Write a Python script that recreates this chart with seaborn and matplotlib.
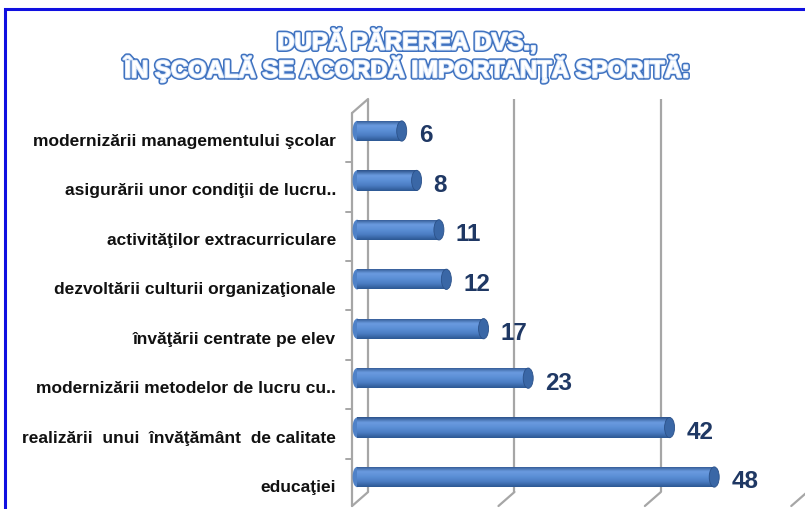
"""
Survey chart: Dupa parerea dvs., in scoala se acorda importanta sporita
Horizontal cylinder-style bars, recreated with seaborn + matplotlib
"""

import numpy as np
import pandas as pd
import matplotlib
matplotlib.use('Agg')
import matplotlib.pyplot as plt
import matplotlib.patheffects as pe
from matplotlib.patches import Ellipse, Rectangle
from matplotlib.transforms import ScaledTranslation
import seaborn as sns

# --- data ---
categories = [
    'modernizării managementului şcolar',
    'asigurării unor condiţii de lucru..',
    'activităţilor extracurriculare',
    'dezvoltării culturii organizaţionale',
    'învăţării centrate pe elev',
    'modernizării metodelor de lucru cu..',
    'realizării  unui  învăţământ  de calitate',
    'educaţiei',
]
values = [6, 8, 11, 12, 17, 23, 42, 48]
grid_ticks = [0, 20, 40, 60]

title_lines = ['DUPĂ PĂREREA DVS.,',
               'ÎN ŞCOALĂ SE ACORDĂ IMPORTANŢĂ SPORITĂ:']

df = pd.DataFrame({'category': categories, 'value': values})

sns.set_theme(style='white')
plt.rcParams['font.family'] = ['Liberation Sans', 'DejaVu Sans']

W, H = 805, 510
fig = plt.figure(figsize=(W / 100, H / 100), dpi=100)

# axes spans pixel x 350..805, y 100..507
ax = fig.add_axes([350 / W, 3 / H, 455 / W, 407 / H])
xmin, xmax = -0.95, 60.2
ax.set_xlim(xmin, xmax)
ppx = 455 / (xmax - xmin)          # pixels per x unit
ppy = 49.43                        # pixels per category
y_top = -(132 - 100) / ppy
y_bot = y_top + 407 / ppy
ax.set_ylim(y_bot, y_top)

bar_h = 0.41
sns.barplot(data=df, x='value', y='category', orient='h', width=bar_h,
            color='#4f82c8', edgecolor='none', ax=ax, zorder=3)

# --- fake 3D frame: back wall + floor slants ---
grid_col = '#a6a6a6'
dx_floor = 16 / ppx
dy_floor = 14 / ppy
back_bot = y_bot - dy_floor
for g in grid_ticks:
    bx = (11 + g * 7.32) / ppx
    ax.plot([bx, bx], [y_top, back_bot], color=grid_col, lw=1.6, zorder=1,
            solid_capstyle='butt', clip_on=False)
    ax.plot([bx, bx - dx_floor], [back_bot, y_bot], color=grid_col, lw=1.6,
            zorder=1, clip_on=False)

# left side wall (front edge + tick marks)
fx = (352 - 357) / ppx
bx0 = 11 / ppx
ax.plot([fx, fx], [y_top + dy_floor, y_bot], color=grid_col, lw=1.6, zorder=1, clip_on=False)
ax.plot([fx, bx0], [y_top + dy_floor, y_top], color=grid_col, lw=1.6, zorder=1, clip_on=False)
for k in range(len(categories) - 1):
    ax.plot([fx - 6 / ppx, fx], [k + 0.63, k + 0.63], color=grid_col, lw=1.4,
            zorder=1, clip_on=False)

# --- cylinder shading on every bar ---
grad = np.linspace(0, 1, 64).reshape(-1, 1)
cyl = matplotlib.colors.LinearSegmentedColormap.from_list(
    'cyl', ['#2b5189', '#6b9be0', '#5b8fd6', '#4a7cc2', '#2c5792'])
for i, patch in enumerate(ax.patches[:len(values)]):
    y0 = patch.get_y()
    h = patch.get_height()
    v = values[i]
    # rounded left end
    ax.add_patch(Ellipse((0, y0 + h / 2), 9 / ppx, h, facecolor='#4f82c8',
                         edgecolor='none', zorder=3))
    im = ax.imshow(grad, extent=[0, v, y0 + h, y0], aspect='auto', cmap=cyl,
                   zorder=4, interpolation='bicubic')
    im.set_clip_path(patch)
    # end cap
    ax.add_patch(Ellipse((v, y0 + h / 2), 10 / ppx, h, facecolor='#3a67a6',
                         edgecolor='#2b5189', lw=0.6, zorder=5))
    ax.text(v + 17 / ppx, i + 0.08, str(v), ha='left', va='center',
            fontsize=17.5, fontweight='bold', color='#1f3864', zorder=6)

ax.set_xlim(xmin, xmax)
ax.set_ylim(y_bot, y_top)
ax.set_xticks([])
ax.set_xlabel('')
ax.set_ylabel('')
ax.tick_params(axis='y', length=0, pad=10)
for lbl in ax.get_yticklabels():
    lbl.set_fontsize(12.5)
    lbl.set_fontweight('bold')
    lbl.set_color('#111111')
    lbl.set_transform(lbl.get_transform() + ScaledTranslation(0, -8 / 100, fig.dpi_scale_trans))
for s in ax.spines.values():
    s.set_visible(False)
ax.patch.set_alpha(0)

# --- outer border (blue, open on right/bottom) ---
fig.add_artist(Rectangle((5 / W, -0.05), 1.2, (500 / H) + 0.05, transform=fig.transFigure,
                         fill=False, edgecolor='#1010e0', lw=2.2, zorder=10))

# --- outlined title ---
for txt, yp in zip(title_lines, [43, 70]):
    fig.text(407 / W, 1 - yp / H, txt, ha='center', va='center',
             fontsize=17.2, fontweight='bold', color='#ffffff',
             path_effects=[pe.Stroke(linewidth=3.6, foreground='#3f72c0'),
                           pe.Stroke(linewidth=1.4, foreground='#d9e6f8'),
                           pe.Normal()])

fig.savefig('out.png', dpi=100)
